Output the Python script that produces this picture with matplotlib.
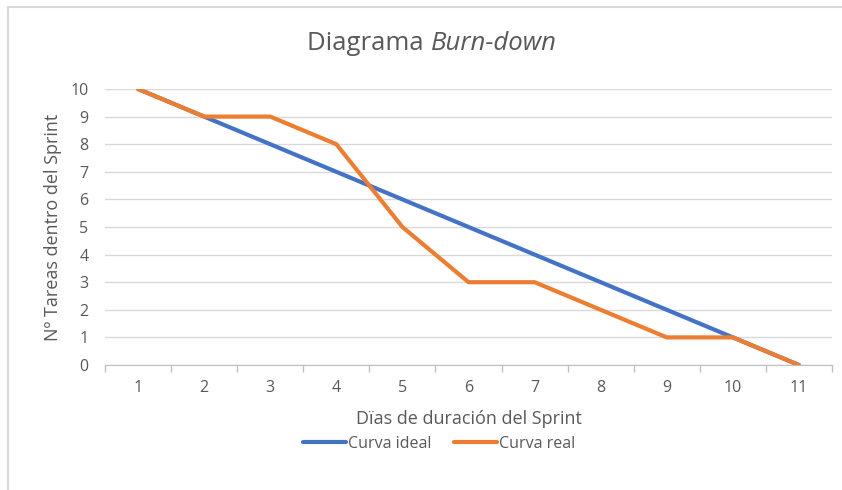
import matplotlib
matplotlib.use('Agg')
import matplotlib.pyplot as plt
from matplotlib.lines import Line2D
import numpy as np

dias = ['1', '2', '3', '4', '5', '6', '7', '8', '9', '10', '11']
curva_ideal = [10, 9, 8, 7, 6, 5, 4, 3, 2, 1, 0]
curva_real = [10, 9, 9, 8, 5, 3, 3, 2, 1, 1, 0]

plt.rcParams['font.family'] = ['Open Sans', 'DejaVu Sans']
gris = '#595959'

fig = plt.figure(figsize=(8.42, 4.9), dpi=100)
ax = fig.add_axes([105 / 842, 1 - 365 / 490, 727 / 842, 276 / 490])

x = np.arange(len(dias))
ax.plot(x, curva_ideal, color='#4472C4', lw=3, solid_capstyle='round', label='Curva ideal', zorder=3)
ax.plot(x, curva_real, color='#ED7D31', lw=3, solid_capstyle='round', label='Curva real', zorder=4)

ax.set_xlim(-0.5, len(dias) - 0.5)
ax.set_ylim(0, 10)
ax.set_yticks(range(0, 11))
ax.set_xticks(x)
ax.set_xticklabels(dias)
ax.set_xticks(np.arange(-0.5, len(dias), 1), minor=True)
ax.tick_params(axis='x', which='major', length=0, pad=11, labelsize=11.5, labelcolor=gris)
ax.tick_params(axis='x', which='minor', length=5, width=1, color='#bfbfbf', direction='out')
ax.tick_params(axis='y', length=0, pad=12, labelsize=11.5, labelcolor=gris)

ax.grid(axis='y', color='#d9d9d9', lw=1)
ax.set_axisbelow(True)
for s in ['top', 'right', 'left']:
    ax.spines[s].set_visible(False)
ax.spines['bottom'].set_color('#bfbfbf')

ax.set_xlabel('Dïas de duración del Sprint', fontsize=13, color=gris, labelpad=10)
ax.set_ylabel('Nº Tareas dentro del Sprint', fontsize=13, color=gris, labelpad=6)

ax.legend(loc='center', bbox_to_anchor=(439 / 842, 1 - 444 / 490), bbox_transform=fig.transFigure,
          ncol=2, frameon=False, fontsize=11.5, labelcolor=gris, handlelength=2.7,
          handletextpad=0.1, columnspacing=1.4, borderpad=0)

# titulo con parte en cursiva
fig.canvas.draw()
r = fig.canvas.get_renderer()
ty = 1 - 44 / 490
t1 = fig.text(0, ty, 'Diagrama ', fontsize=18.5, color=gris, va='center')
t2 = fig.text(0, ty, 'Burn-down', fontsize=18.5, color=gris, va='center', style='italic')
w1 = t1.get_window_extent(r).width / fig.bbox.width
w2 = t2.get_window_extent(r).width / fig.bbox.width
x0 = 432 / 842 - (w1 + w2) / 2
t1.set_x(x0)
t2.set_x(x0 + w1)

# borde del grafico
fig.add_artist(Line2D([8 / 842, 1], [1 - 7 / 490, 1 - 7 / 490], color='#d9d9d9', lw=1.5, transform=fig.transFigure))
fig.add_artist(Line2D([8 / 842, 8 / 842], [0, 1 - 7 / 490], color='#d9d9d9', lw=1.5, transform=fig.transFigure))

fig.savefig('out.png', dpi=100)
